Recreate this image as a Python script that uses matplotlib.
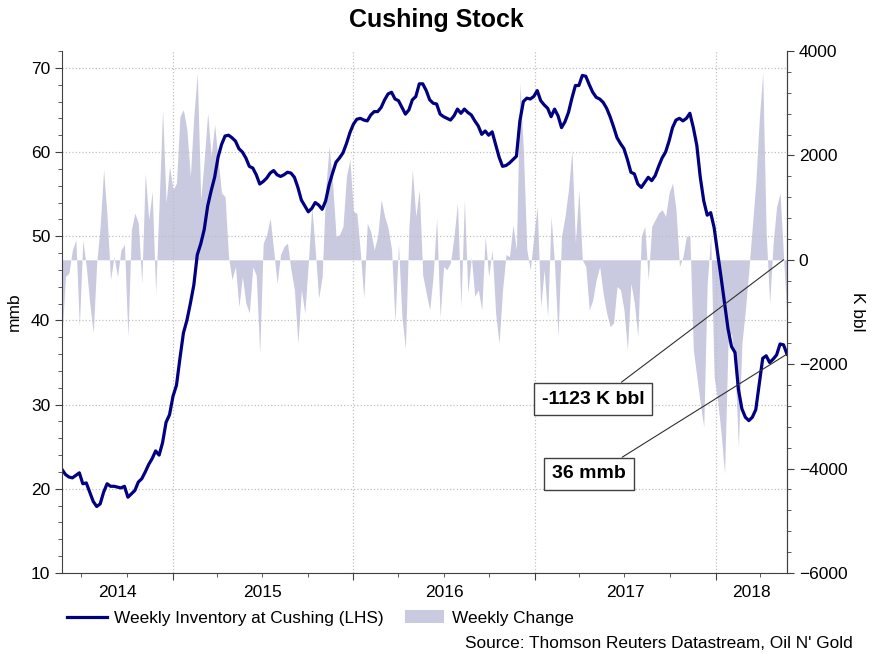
import numpy as np
import pandas as pd
import matplotlib
matplotlib.use("Agg")
import matplotlib.pyplot as plt
import matplotlib.dates as mdates
from matplotlib.patches import Patch
from matplotlib.lines import Line2D

plt.rcParams['font.family'] = ['Liberation Sans', 'DejaVu Sans']

# weekly data
weeks = pd.date_range('2014-05-23', periods=210, freq='7D')

inventory = [
    22.3, 21.7, 21.4, 21.3, 21.6, 21.9, 20.6, 20.7, 19.6, 18.5,
    17.9, 18.2, 19.6, 20.6, 20.3, 20.3, 20.2, 20.1, 20.3, 19.0,
    19.4, 19.8, 20.8, 21.2, 22.0, 22.9, 23.6, 24.5, 24.0, 25.5,
    27.9, 28.8, 31.0, 32.3, 35.5, 38.5, 40.0, 42.0, 44.2, 47.8,
    49.1, 50.8, 53.6, 55.4, 57.0, 59.4, 60.9, 61.9, 62.0, 61.7,
    61.3, 60.4, 60.0, 59.3, 58.3, 58.1, 57.3, 56.2, 56.5, 56.9,
    57.5, 57.8, 57.3, 57.1, 57.3, 57.6, 57.5, 57.0, 55.8, 54.3,
    53.6, 52.9, 53.3, 54.0, 53.7, 53.2, 54.2, 56.1, 57.5, 58.8,
    59.3, 59.9, 61.0, 62.3, 63.3, 63.9, 64.0, 63.8, 63.7, 64.4,
    64.8, 64.8, 65.3, 66.2, 66.9, 67.1, 66.3, 66.1, 65.3, 64.5,
    65.0, 66.2, 66.6, 68.1, 68.1, 67.3, 66.2, 65.8, 65.7, 64.5,
    64.2, 64.0, 63.8, 64.3, 65.1, 64.6, 65.1, 64.7, 64.4, 63.7,
    63.1, 62.1, 62.5, 62.0, 62.4, 60.9, 59.4, 58.3, 58.4, 58.7,
    59.1, 59.5, 63.7, 66.0, 66.4, 66.3, 66.6, 67.3, 66.1, 65.6,
    65.2, 64.2, 65.1, 64.3, 62.9, 63.6, 64.7, 66.4, 67.9, 67.9,
    69.1, 69.0, 68.0, 67.1, 66.5, 66.3, 65.9, 65.2, 64.2, 63.0,
    61.7, 61.0, 60.4, 59.1, 57.6, 57.4, 56.2, 55.8, 56.4, 57.0,
    56.6, 57.2, 58.3, 59.3, 60.0, 61.3, 62.9, 63.8, 64.0, 63.7,
    64.0, 64.6, 62.9, 60.8, 57.0, 54.2, 52.5, 52.8, 51.0, 48.0,
    45.1, 42.0, 39.0, 36.9, 36.2, 31.8, 29.5, 28.5, 28.1, 28.5,
    29.4, 32.5, 35.5, 35.8, 35.0, 35.4, 35.9, 37.2, 37.1, 36.0,
]

weekly_change = [
    -1470, -320, -255, 190, 380, -1280, 380, -130, -830, -1400,
    -60, 640, 1725, 830, -380, 60, -320, 190, 290, -1470,
    575, 895, 700, -450, 1660, 770, 1310, -640, 1090, 2875,
    1090, 1790, 1340, 1470, 2750, 2875, 2490, 1600, 2750, 3580,
    1150, 1920, 2810, 1980, 2590, 1920, 1280, 1210, 60, -380,
    -130, -900, -320, -830, -1020, -130, -300, -1790, 320, 480,
    800, 190, -450, 100, 255, 320, -190, -575, -1600, -575,
    -1020, -60, 1020, 190, -735, -320, 1340, 2170, 1470, 450,
    480, 640, 1600, 1920, 930, 890, 160, -735, 700, 540,
    190, 450, 1150, 830, 610, 200, -1180, 300, -1100, -1700,
    600, 1725, 830, 1340, -300, -640, -960, -300, 800, -1090,
    -130, -190, -50, 450, 1090, -900, 1150, -640, 60, -700,
    -575, -960, 450, -320, 190, -1020, -1600, -575, 100, 60,
    670, 190, 3390, 2110, 190, -190, 450, 1020, -900, -190,
    -1090, 830, -100, -1470, 450, 830, 1340, 2100, 320, 1340,
    0, -130, -960, -770, -380, -130, -640, -1020, -1280, -1210,
    -510, -575, -960, -1725, -450, -830, -1470, 450, 640, -380,
    640, 770, 900, 960, 830, 1280, 1470, 960, -130, 60,
    450, 450, -1725, -2240, -2750, -3200, -450, 450, -2240, -2680,
    -3320, -4090, -1600, -1400, -2050, -3580, -1600, -960, -190, 640,
    1470, 2680, 3580, 510, -830, 320, 1020, 1280, 60, -1123,
]

year_labels = ['2014', '2015', '2016', '2017', '2018']

navy = '#000080'
area_col = '#c9c9e0'
grid_col = '#c0c0c0'

xnum = mdates.date2num(weeks.to_pydatetime())

fig = plt.figure(figsize=(8.72, 6.54), dpi=100)
ax1 = fig.add_axes([62 / 872, 81 / 654, 725 / 872, 522 / 654])
ax2 = ax1.twinx()
ax1.set_zorder(ax2.get_zorder() + 1)
ax1.patch.set_visible(False)

# weekly change area on the right axis
ax2.fill_between(xnum, 0, weekly_change, color=area_col, lw=0)
ax2.set_ylim(-6000, 4000)
ax2.set_yticks(np.arange(-6000, 4001, 2000))
ax2.yaxis.set_minor_locator(matplotlib.ticker.MultipleLocator(400))
ax2.set_ylabel('K bbl', fontsize=12.5, rotation=270, labelpad=10)
ax2.yaxis.set_label_coords(1.108, 0.5)

# inventory line on the left axis
ax1.plot(xnum, inventory, color=navy, lw=2.3)
ax1.set_ylim(10, 72)
ax1.set_yticks(np.arange(10, 71, 10))
ax1.yaxis.set_minor_locator(matplotlib.ticker.MultipleLocator(2))
ax1.set_ylabel('mmb', fontsize=12.5)
ax1.yaxis.set_label_coords(-0.055, 0.5)
ax1.set_xlim(xnum[0], xnum[-1])

ax1.xaxis.set_major_locator(mdates.YearLocator())
ax1.xaxis.set_minor_locator(mdates.MonthLocator(bymonth=[1, 4, 7, 10]))
ax1.xaxis.set_major_formatter(matplotlib.ticker.NullFormatter())

ax1.grid(True, which='major', axis='y', color=grid_col, ls=':', lw=0.9)
ax1.grid(True, which='major', axis='x', color=grid_col, ls=':', lw=0.9)

for a in (ax1, ax2):
    a.spines['top'].set_visible(False)
    for s in ('left', 'right', 'bottom'):
        a.spines[s].set_color('#404040')
    a.tick_params(which='major', length=5, color='#404040', labelsize=12.5)
    a.tick_params(which='minor', length=3, color='#404040')
ax2.spines['left'].set_visible(False)
ax2.spines['bottom'].set_visible(False)

# year labels centred in the visible part of each year
x0, x1 = ax1.get_xlim()
for lab in year_labels:
    y = int(lab)
    a = max(mdates.date2num(pd.Timestamp(f'{y}-01-01').to_pydatetime()), x0)
    b = min(mdates.date2num(pd.Timestamp(f'{y + 1}-01-01').to_pydatetime()), x1)
    ax1.text((a + b) / 2, -0.023, lab, transform=ax1.get_xaxis_transform(),
             ha='center', va='top', fontsize=12.5)

# call-outs
box = dict(boxstyle='square,pad=0.4', fc='white', ec='#404040', lw=1)
ax1.annotate('-1123 K bbl', xy=(xnum[-2], 0), xycoords=ax2.transData,
             xytext=(593, 255), textcoords='figure pixels',
             ha='center', va='center', fontsize=14, fontweight='bold', bbox=box,
             arrowprops=dict(arrowstyle='-', color='#303030', lw=0.8,
                             relpos=(0.67, 1.0), shrinkA=0, shrinkB=0))
ax1.annotate('36 mmb', xy=(xnum[-1], inventory[-1]),
             xytext=(589, 180), textcoords='figure pixels',
             ha='center', va='center', fontsize=14, fontweight='bold', bbox=box,
             arrowprops=dict(arrowstyle='-', color='#303030', lw=0.8,
                             relpos=(0.77, 1.0), shrinkA=0, shrinkB=0))

fig.text(436 / 872, 1 - 20 / 654, 'Cushing Stock', ha='center', va='center',
         fontsize=18, fontweight='bold')

handles = [Line2D([], [], color=navy, lw=2.3), Patch(color=area_col, lw=0)]
fig.legend(handles, ['Weekly Inventory at Cushing (LHS)', 'Weekly Change'],
           loc='center left', bbox_to_anchor=(60 / 872, 36 / 654), ncol=2,
           frameon=False, fontsize=12.4, handlelength=2.3, handletextpad=0.45,
           columnspacing=1.2, borderaxespad=0)

fig.text(853 / 872, 11 / 654, "Source: Thomson Reuters Datastream, Oil N' Gold",
         ha='right', va='center', fontsize=12.4)

fig.savefig('out.png', dpi=100)
